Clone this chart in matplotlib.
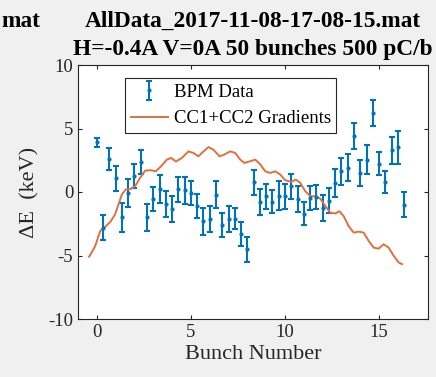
import numpy as np
import matplotlib
matplotlib.use("Agg")
import matplotlib.pyplot as plt

plt.rcParams['font.family'] = ['Liberation Serif', 'DejaVu Serif']
plt.rcParams['axes.unicode_minus'] = False

# BPM data, one point per bunch (bunch spacing shown as 1/3 on the axis)
bunch = np.arange(50) / 3.0
dE = [3.9, -2.8, 2.6, 1.08, -2.0, -0.08, 1.26, 2.35, -2.0, -0.54,
      0.23, -0.93, -1.37, 0.23, 0.13, -0.1, -1.1, -2.3, -2.14, -0.23,
      -2.6, -2.14, -2.09, -3.3, -4.5, 0.75, -0.8, -0.33, -0.75, -0.28,
      -0.33, 0.44, -0.54, -1.7, -0.49, -0.39, -1.26, -0.67, 0.7, 1.65,
      1.9, 4.4, 1.52, 2.55, 6.2, 2.24, 0.8, 3.3, 3.53, -1.0]
dE_err = [0.36, 0.97, 0.9, 0.97, 1.13, 1.1, 0.98, 0.94, 1.07, 0.97,
          1.08, 1.03, 1.02, 0.98, 1.08, 0.93, 0.97, 1.07, 1.03, 1.06,
          0.97, 1.03, 0.84, 0.97, 0.99, 1.0, 1.03, 0.97, 0.94, 1.12,
          0.97, 0.97, 1.03, 0.93, 0.94, 0.98, 1.0, 0.97, 1.12, 1.06,
          1.07, 1.03, 1.03, 1.12, 1.03, 0.94, 0.86, 1.06, 1.29, 1.0]

# CC1+CC2 gradient curve
grad_x = [-0.41, -0.09, 0.18, 0.44, 0.71, 0.97, 1.15, 1.33, 1.54, 1.82,
          2.04, 2.30, 2.57, 2.89, 3.13, 3.42, 3.72, 3.95, 4.20, 4.52,
          4.87, 5.14, 5.40, 5.67, 5.94, 6.20, 6.52, 6.77, 7.09, 7.36,
          7.62, 7.84, 8.15, 8.42, 8.69, 8.95, 9.22, 9.48, 9.75, 10.01,
          10.33, 10.58, 10.81, 11.08, 11.35, 11.61, 11.88, 12.15, 12.41, 12.68,
          12.89, 13.12, 13.38, 13.65, 13.92, 14.18, 14.45, 14.71, 14.98, 15.24,
          15.51, 15.78, 16.04, 16.22]
grad_y = [-5.1, -4.27, -3.08, -2.74, -2.37, -1.77, -0.98, -0.2, 0.2, 0.25,
          0.46, 1.12, 1.69, 1.71, 1.63, 2.03, 2.55, 2.68, 2.4, 2.68,
          3.2, 3.07, 2.81, 3.2, 3.54, 3.33, 2.81, 2.94, 3.2, 3.07,
          2.55, 2.29, 2.42, 2.55, 2.16, 1.63, 1.5, 1.63, 1.37, 0.93,
          0.8, 0.98, 0.72, 0.06, -0.33, -0.33, -0.53, -1.11, -1.63, -1.69,
          -1.51, -1.9, -2.68, -3.2, -3.12, -3.2, -3.86, -4.38, -4.46, -4.12,
          -4.38, -5.03, -5.55, -5.68]

fig = plt.figure(figsize=(4.36, 3.77), dpi=100, facecolor='#f0f0f0')
ax = fig.add_axes([78/436, 1 - 319/377, 350/436, 254/377])

eb = ax.errorbar(bunch, dE, yerr=dE_err, fmt='.', color='#0072BD', ms=4,
                 elinewidth=1.5, capsize=2.5, capthick=1.5, label='BPM Data')
ln, = ax.plot(grad_x, grad_y, color='#E0703F', lw=1.4, label='CC1+CC2 Gradients')

ax.set_xlim(-1, 17.6)
ax.set_ylim(-10, 10)
ax.set_xticks([0, 5, 10, 15])
ax.set_yticks([-10, -5, 0, 5, 10])
ax.tick_params(direction='in', top=True, right=True, length=3,
               labelsize=13.5, colors='#262626', width=0.8)
for s in ax.spines.values():
    s.set_color('#262626')
    s.set_linewidth(0.8)

ax.set_xlabel('Bunch Number', fontsize=16, color='#262626', labelpad=3)
ax.set_ylabel('ΔE  (keV)', fontsize=16, color='#262626', labelpad=6)

leg = ax.legend([eb, ln], ['BPM Data', 'CC1+CC2 Gradients'],
                loc='upper left', bbox_to_anchor=(0.134, 0.949),
                borderaxespad=0, fontsize=13.5, fancybox=False,
                framealpha=1, edgecolor='#262626', handlelength=2.0,
                borderpad=0.3, labelspacing=0.5, handletextpad=0.3)
leg.get_frame().set_linewidth(0.8)

fig.text(253/436, 1 - 27/377, 'AllData_2017-11-08-17-08-15.mat',
         ha='center', va='baseline', fontsize=16.8, fontweight='bold')
fig.text(253/436, 1 - 55/377, 'H=-0.4A V=0A 50 bunches 500 pC/b',
         ha='center', va='baseline', fontsize=16.8, fontweight='bold')
fig.text(1/436, 1 - 27/377, 'mat', ha='left', va='baseline',
         fontsize=16.8, fontweight='bold')

fig.savefig('out.png', dpi=100, facecolor=fig.get_facecolor())
